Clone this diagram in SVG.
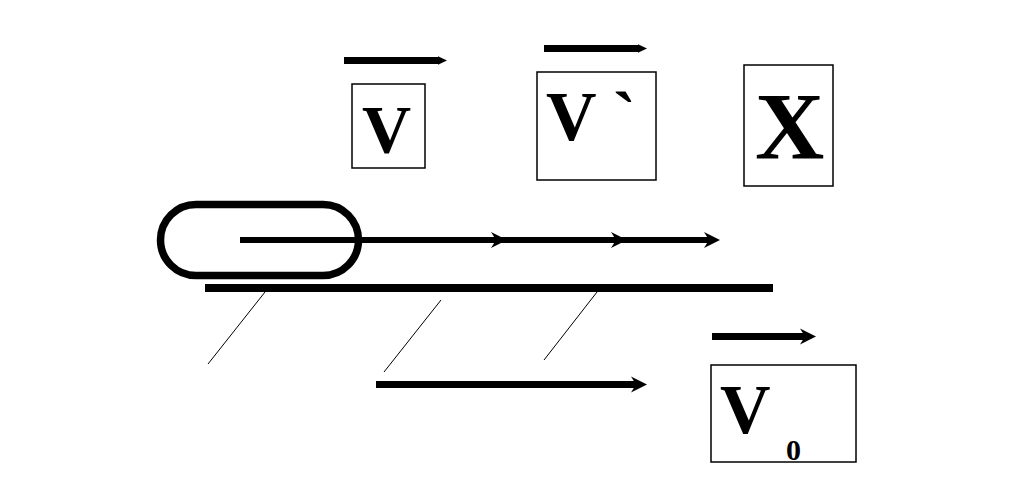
<svg xmlns="http://www.w3.org/2000/svg" width="1012" height="493" viewBox="0 0 1012 493">
<style>
.box{fill:#fff;stroke:#000;stroke-width:1.5}
.lbl{font-family:"Liberation Serif","Times New Roman",serif;font-weight:bold;fill:#000}
.thick{stroke:#000;fill:none}
.thin{stroke:#000;stroke-width:1;fill:none}
</style>
<defs>
<marker id="head" markerUnits="userSpaceOnUse" markerWidth="20" markerHeight="20" refX="5" refY="8" orient="auto" viewBox="0 0 20 16">
<path d="M0,0 L16,8 L0,16 L5,8 Z" fill="#000"/>
</marker>
<marker id="small" markerUnits="userSpaceOnUse" markerWidth="12" markerHeight="10" refX="0.5" refY="5" orient="auto" viewBox="0 0 12 10">
<path d="M0,0.5 L9.5,5 L0,9.5 Z" fill="#000"/>
</marker>
</defs>
<rect width="1012" height="493" fill="#fff"/>
<g id="connectors">
<line class="thick" x1="344" y1="60.5" x2="438" y2="60.5" stroke-width="7" marker-end="url(#small)"/>
<line class="thick" x1="544" y1="48.5" x2="638" y2="48.5" stroke-width="7" marker-end="url(#small)"/>
<line class="thick" x1="712" y1="336.5" x2="805" y2="336.5" stroke-width="7" marker-end="url(#head)"/>
<polyline class="thick" points="240,240 496,240 616,240 709,240" stroke-width="6" marker-mid="url(#head)" marker-end="url(#head)"/>
<line class="thick" x1="376" y1="384.5" x2="636" y2="384.5" stroke-width="7" marker-end="url(#head)"/>
</g>
<g id="car">
<rect x="160.5" y="204.5" width="198" height="71" rx="35.5" ry="35.5" fill="none" stroke="#000" stroke-width="7.5"/>
</g>
<g id="ground">
<line x1="205" y1="288" x2="773" y2="288" stroke="#000" stroke-width="8"/>
<line class="thin" x1="265" y1="292" x2="208" y2="364"/>
<line class="thin" x1="441" y1="300" x2="384" y2="372"/>
<line class="thin" x1="597" y1="292" x2="544" y2="360"/>
</g>
<g id="node-v">
<rect class="box" x="352" y="84" width="73" height="84"/>
<text class="lbl" x="362" y="152" font-size="68">V</text>
</g>
<g id="node-v-prime">
<rect class="box" x="537" y="72" width="119" height="108"/>
<text class="lbl" x="546" y="140" font-size="70" xml:space="preserve">V `</text>
</g>
<g id="node-x">
<rect class="box" x="744" y="65" width="89" height="121"/>
<text class="lbl" x="755" y="159" font-size="96">X</text>
</g>
<g id="node-v0">
<rect class="box" x="711" y="365" width="145" height="97"/>
<text class="lbl" x="720" y="433" font-size="70">V</text>
<text class="lbl" x="786" y="460" font-size="30">0</text>
</g>
</svg>
